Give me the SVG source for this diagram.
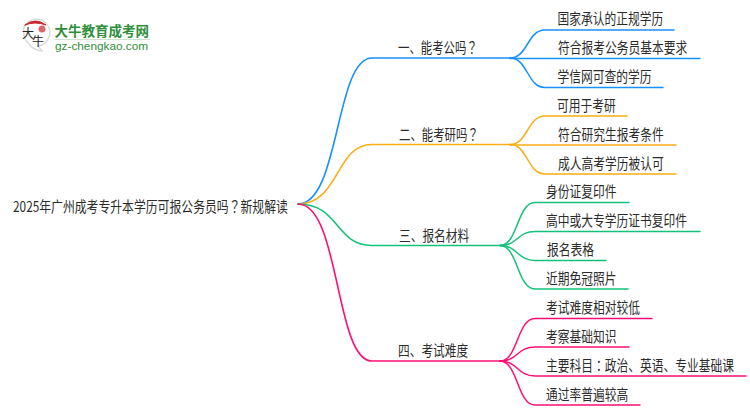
<svg xmlns="http://www.w3.org/2000/svg" width="750" height="410" viewBox="0 0 750 410">
<style>
text{font-family:"Noto Sans CJK SC","Liberation Sans",sans-serif}
.t{font-size:15px;fill:#2b2b2b}
.c{font-family:"Noto Sans CJK TC",sans-serif}
path{fill:none;stroke-linecap:round}
.b{stroke:#1890ff}.o{stroke:#faad14}.g{stroke:#13c27a}.p{stroke:#ff0f75}
.m{stroke-width:1.600}.l{stroke-width:1.500}
</style>
<rect width="750" height="410" fill="#fff"/>
<g id="connectors">
<g class="b">
<path class="m" d="M298 204C340 204 335 58 372 58H510"/>
<path class="l" d="M510 58C528 58 527 30 545 30H674"/>
<path class="l" d="M510 58.500H700"/>
<path class="l" d="M510 58C528 58 527 87.500 545 87.500H663"/>
</g>
<g class="o">
<path class="m" d="M298 204C340 204 335 144.500 372 144.500H510"/>
<path class="l" d="M510 144.500C528 144.500 527 116 545 116H627"/>
<path class="l" d="M510 145H676"/>
<path class="l" d="M510 144.500C528 144.500 527 174 545 174H676"/>
</g>
<g class="g">
<path class="m" d="M298 204C340 204 335 245.500 372 245.500H500"/>
<path class="l" d="M500 245.500C518 245.500 517 202.500 535 202.500H629"/>
<path class="l" d="M500 245.500C518 245.500 517 231.500 535 231.500H700"/>
<path class="l" d="M500 245.500C518 245.500 517 260.500 535 260.500H606"/>
<path class="l" d="M500 245.500C518 245.500 517 289 535 289H628"/>
</g>
<g class="p">
<path class="m" d="M298 204C340 204 335 361 372 361H500"/>
<path class="l" d="M500 361C518 361 517 318.500 535 318.500H652"/>
<path class="l" d="M500 361C518 361 517 347 535 347H629"/>
<path class="l" d="M500 361C518 361 517 376 535 376H746"/>
<path class="l" d="M500 361C518 361 517 405 535 405H640"/>
</g>
</g>
<g id="logo">
<path d="M24 27A13.500 13.500 0 1 1 38 46L42 51Q33 50 29 44Q22 38 24 27Z" style="fill:#fff;stroke:#ddd;stroke-width:1.500"/>
<path d="M25 25Q35 17 46 25Q35 21 25 25Z" style="fill:#c8262b;stroke:#c8262b"/>
<circle cx="42" cy="29" r="3.500" fill="#e0666a"/>
<text x="22" y="38" font-size="12" fill="#222">大</text>
<text x="32" y="46" font-size="12" fill="#222">牛</text>
<text x="54.500" y="36" font-size="13.500" font-weight="700" fill="#2f8f3a">大牛教育成考网</text>
<path d="M55 39.500H150" style="stroke:#cfe3cf"/>
<text x="55" y="50" font-size="11.800" fill="#2f8f3a" style="font-family:'Liberation Sans',sans-serif">gz-chengkao.com</text>
</g>
<g id="root"><text class="t" transform="matrix(.79 0 0 1 13 211.500)">2025年广州成考专升本学历可报公务员吗<tspan class="c">？</tspan>新规解读</text></g>
<g id="n1"><text class="t" transform="matrix(.76 0 0 1 398 52.500)">一、能考公吗<tspan class="c">？</tspan></text></g>
<g id="n2"><text class="t" transform="matrix(.76 0 0 1 399 139.500)">二、能考研吗<tspan class="c">？</tspan></text></g>
<g id="n3"><text class="t" transform="matrix(.78 0 0 1 399 240.500)">三、报名材料</text></g>
<g id="n4"><text class="t" transform="matrix(.78 0 0 1 398 355.500)">四、考试难度</text></g>
<g id="l11"><text class="t" transform="matrix(.783 0 0 1 557.500 24)">国家承认的正规学历</text></g>
<g id="l12"><text class="t" transform="matrix(.783 0 0 1 558 52.500)">符合报考公务员基本要求</text></g>
<g id="l13"><text class="t" transform="matrix(.783 0 0 1 557.500 81.500)">学信网可查的学历</text></g>
<g id="l21"><text class="t" transform="matrix(.783 0 0 1 557 110.500)">可用于考研</text></g>
<g id="l22"><text class="t" transform="matrix(.783 0 0 1 558 139.500)">符合研究生报考条件</text></g>
<g id="l23"><text class="t" transform="matrix(.783 0 0 1 558 168.500)">成人高考学历被认可</text></g>
<g id="l31"><text class="t" transform="matrix(.783 0 0 1 546 196.500)">身份证复印件</text></g>
<g id="l32"><text class="t" transform="matrix(.783 0 0 1 546 225.500)">高中或大专学历证书复印件</text></g>
<g id="l33"><text class="t" transform="matrix(.783 0 0 1 547 255)">报名表格</text></g>
<g id="l34"><text class="t" transform="matrix(.783 0 0 1 546 284)">近期免冠照片</text></g>
<g id="l41"><text class="t" transform="matrix(.783 0 0 1 546 313)">考试难度相对较低</text></g>
<g id="l42"><text class="t" transform="matrix(.783 0 0 1 546 341.500)">考察基础知识</text></g>
<g id="l43"><text class="t" transform="matrix(.783 0 0 1 546 370.500)">主要科目<tspan class="c">：</tspan>政治、英语、专业基础课</text></g>
<g id="l44"><text class="t" transform="matrix(.783 0 0 1 546 399.500)">通过率普遍较高</text></g>
</svg>
